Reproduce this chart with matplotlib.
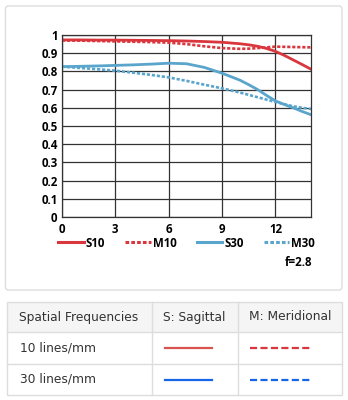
import matplotlib.pyplot as plt
from matplotlib.patches import FancyBboxPatch, Rectangle
from matplotlib.lines import Line2D

# MTF data (image height in mm -> contrast)
x = [0, 1, 2, 3, 4, 5, 6, 7, 8, 9, 10, 10.5, 11, 11.5, 12, 12.5, 13, 13.5, 14]
s10 = [0.973, 0.973, 0.972, 0.972, 0.971, 0.970, 0.969, 0.967, 0.964, 0.960, 0.952, 0.946, 0.938, 0.926, 0.910, 0.888, 0.863, 0.838, 0.812]
m10 = [0.970, 0.969, 0.967, 0.965, 0.963, 0.961, 0.958, 0.950, 0.938, 0.928, 0.924, 0.925, 0.928, 0.932, 0.936, 0.935, 0.934, 0.933, 0.932]
s30 = [0.826, 0.828, 0.830, 0.833, 0.836, 0.840, 0.845, 0.842, 0.822, 0.790, 0.752, 0.727, 0.700, 0.668, 0.638, 0.618, 0.600, 0.580, 0.562]
m30 = [0.826, 0.819, 0.812, 0.804, 0.793, 0.781, 0.767, 0.748, 0.727, 0.707, 0.684, 0.671, 0.658, 0.645, 0.632, 0.620, 0.608, 0.600, 0.593]

x_ticks = [0, 3, 6, 9, 12]
y_ticks = [0, 0.1, 0.2, 0.3, 0.4, 0.5, 0.6, 0.7, 0.8, 0.9, 1]
y_labels = ['0', '0.1', '0.2', '0.3', '0.4', '0.5', '0.6', '0.7', '0.8', '0.9', '1']

header = ['Spatial Frequencies', 'S: Sagittal', 'M: Meridional']
rows = ['10 lines/mm', '30 lines/mm']
row_colors = ['#d9363e', '#1565e6']

RED = '#d9363e'
BLUE = '#5aa5cc'
W, H = 348, 400

fig = plt.figure(figsize=(W / 100, H / 100), dpi=100)
fig.patch.set_facecolor('white')


def fx(px):
    return px / W


def fy(py):
    return 1 - py / H


# chart panel border
panel = FancyBboxPatch((fx(5.5), fy(290)), fx(336.5), 284 / H,
                       boxstyle='round,pad=0,rounding_size=0.008',
                       transform=fig.transFigure, fc='white', ec='#dddddd', lw=1, zorder=-5)
fig.patches.append(panel)

ax = fig.add_axes([fx(62), fy(217), fx(311 - 62), (217 - 35) / H])
ax.set_zorder(2)
ax.patch.set_alpha(0)
ax.set_xlim(0, 14)
ax.set_ylim(0, 1)
ax.set_xticks(x_ticks)
ax.set_yticks(y_ticks)
ax.set_yticklabels(y_labels)
ax.grid(True, color='#333333', lw=0.9)
ax.set_axisbelow(True)
for sp in ax.spines.values():
    sp.set_color('#333333')
    sp.set_linewidth(0.9)
ax.tick_params(length=0, labelsize=8.3)
ax.tick_params(axis='x', pad=4.3)
ax.tick_params(axis='y', pad=3.2)
for lab in ax.get_xticklabels() + ax.get_yticklabels():
    lab.set_fontweight('bold')
    lab.set_family('Open Sans')

ax.plot(x, s10, color=RED, lw=2.0, label='S10')
ax.plot(x, m10, color=RED, lw=1.9, ls=(0, (1.2, 0.7)), label='M10')
ax.plot(x, s30, color=BLUE, lw=2.0, label='S30')
ax.plot(x, m30, color=BLUE, lw=1.9, ls=(0, (1.2, 0.7)), label='M30')

leg = fig.legend(loc='center', bbox_to_anchor=(fx(186.5), fy(243)), ncol=4,
                 frameon=False, handlelength=2.2, handletextpad=0.18,
                 columnspacing=1.75, borderpad=0, borderaxespad=0,
                 prop={'family': 'Open Sans', 'weight': 'bold', 'size': 8.3})
for h in leg.legend_handles:
    h.set_linewidth(2.2)
fig.text(fx(312), fy(262), 'f=2.8', ha='right', va='center',
         family='Open Sans', weight='bold', fontsize=8.3)

# table below the chart
col_x = [7, 152, 238, 342]
row_y = [302, 332, 364, 395]
fig.patches.append(Rectangle((fx(7), fy(332)), fx(335), 30 / H, transform=fig.transFigure,
                             fc='#f5f5f5', ec='none'))
fig.patches.append(Rectangle((fx(7), fy(395)), fx(335), 93 / H, transform=fig.transFigure,
                             fc='none', ec='#dddddd', lw=1))
for cx in col_x[1:-1]:
    fig.lines.append(Line2D([fx(cx), fx(cx)], [fy(302), fy(395)], transform=fig.transFigure,
                            color='#dddddd', lw=1))
for ry in row_y[1:-1]:
    fig.lines.append(Line2D([fx(7), fx(342)], [fy(ry), fy(ry)], transform=fig.transFigure,
                            color='#dddddd', lw=1))

tfont = dict(family='DejaVu Sans', fontsize=8.8, color='#333333', va='center')
fig.text(fx(19), fy(317), header[0], **tfont)
fig.text(fx(163), fy(317), header[1], **tfont)
fig.text(fx(249), fy(317), header[2], **tfont)
for i, (name, c) in enumerate(zip(rows, row_colors)):
    yc = (row_y[i + 1] + row_y[i + 2]) / 2
    fig.text(fx(20), fy(yc), name, **tfont)
    solid_c = '#d9534f' if i == 0 else c
    fig.lines.append(Line2D([fx(165), fx(212)], [fy(yc), fy(yc)], transform=fig.transFigure,
                            color=solid_c, lw=1.6))
    fig.lines.append(Line2D([fx(250), fx(312)], [fy(yc), fy(yc)], transform=fig.transFigure,
                            color=c, lw=1.6, ls=(0, (3.2, 1.5))))

fig.savefig('out.png', dpi=100)
